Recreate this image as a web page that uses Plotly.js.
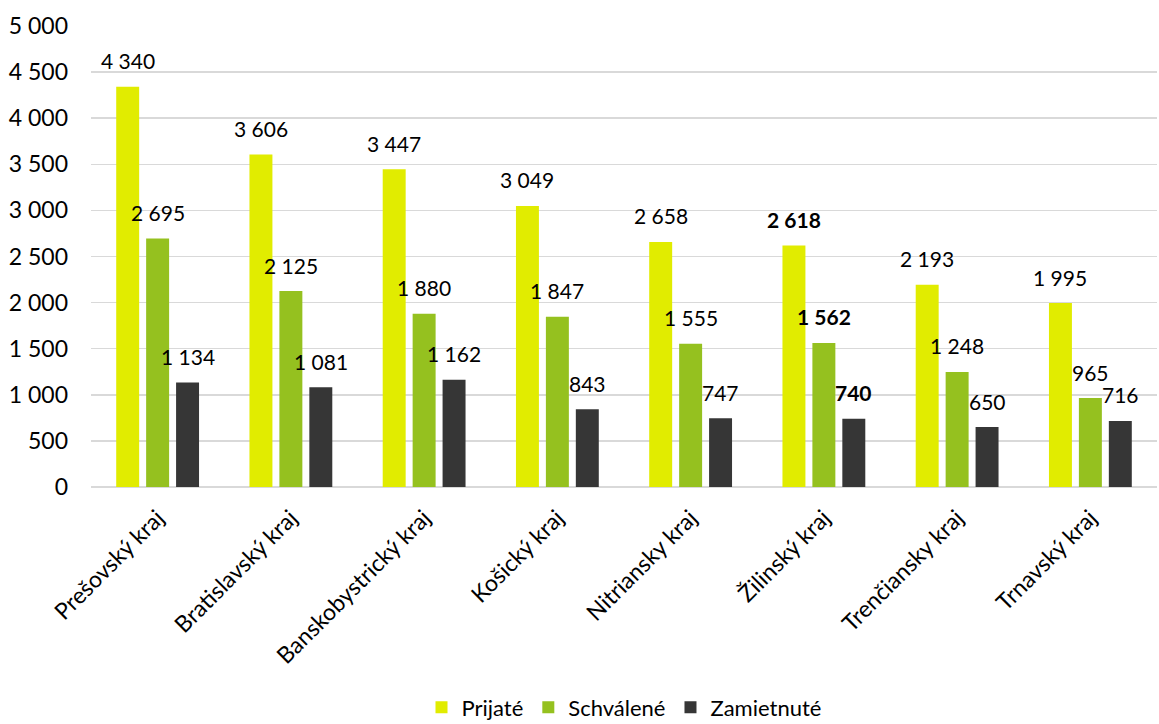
<!DOCTYPE html>
<html>
<head>
<meta charset="utf-8">
<script src="https://cdn.plot.ly/plotly-3.0.1.min.js"></script>
<style>html,body{margin:0;padding:0;background:#fff;}#chart{width:1159px;height:724px;}</style>
</head>
<body>
<div id="chart"></div>
<script>
const categories = ["Prešovský kraj","Bratislavský kraj","Banskobystrický kraj","Košický kraj","Nitriansky kraj","Žilinský kraj","Trenčiansky kraj","Trnavský kraj"];
const prijate = [4340, 3606, 3447, 3049, 2658, 2618, 2193, 1995];
const schvalene = [2695, 2125, 1880, 1847, 1555, 1562, 1248, 965];
const zamietnute = [1134, 1081, 1162, 843, 747, 740, 650, 716];
const seriesNames = ["Prijaté", "Schválené", "Zamietnuté"];
const boldCategory = "Žilinský kraj";

const colors = ["#e1ec00", "#95c11f", "#363636"];
const FONT = "Lato, 'Open Sans', sans-serif";
const seriesData = [prijate, schvalene, zamietnute];

function fmt(v){ return String(v).replace(/\B(?=(\d{3})+(?!\d))/g, " "); }

const traces = seriesData.map((vals, i) => ({
  type: "bar",
  name: seriesNames[i],
  x: categories,
  y: vals,
  marker: {color: colors[i]},
  hoverinfo: "skip"
}));

const shifts = [-30, 0, 30];
const annotations = [];
seriesData.forEach((vals, i) => {
  vals.forEach((v, j) => {
    const bold = categories[j] === boldCategory;
    annotations.push({
      x: categories[j], y: v, xref: "x", yref: "y",
      xshift: shifts[i], yshift: 26, yanchor: "middle", xanchor: "center",
      text: bold ? "<b>" + fmt(v) + "</b>" : fmt(v),
      showarrow: false,
      font: {family: FONT, size: 21, color: "#000"}
    });
  });
});

const layout = {
  width: 1159, height: 724,
  margin: {l: 91, r: 2, t: 26, b: 237, autoexpand: false},
  paper_bgcolor: "#fff", plot_bgcolor: "#fff",
  separators: ", ",
  barmode: "group",
  bargap: 0.326,
  bargroupgap: 0.233,
  font: {family: FONT, size: 21, color: "#000"},
  xaxis: {
    type: "category",
    tickangle: -45,
    automargin: false,
    ticklabelstandoff: 12,
    tickfont: {family: FONT, size: 23, color: "#000"},
    showgrid: false, showline: false, ticks: "", zeroline: false
  },
  yaxis: {
    range: [0, 5000],
    dtick: 500, tick0: 0,
    tickformat: ",d",
    automargin: false,
    ticklabelstandoff: 22,
    tickfont: {family: FONT, size: 23, color: "#000"},
    gridcolor: "#d9d9d9", gridwidth: 1.5,
    zeroline: true, zerolinecolor: "#d9d9d9", zerolinewidth: 1.5,
    showline: false, ticks: "", ticklen: 0
  },
  showlegend: true,
  legend: {
    orientation: "h", x: 0.5, xanchor: "center", y: -0.478, yanchor: "middle",
    font: {family: FONT, size: 22, color: "#000"},
    itemwidth: 30
  },
  annotations: annotations
};

Plotly.newPlot("chart", traces, layout, {displayModeBar: false, staticPlot: true});
</script>
</body>
</html>
